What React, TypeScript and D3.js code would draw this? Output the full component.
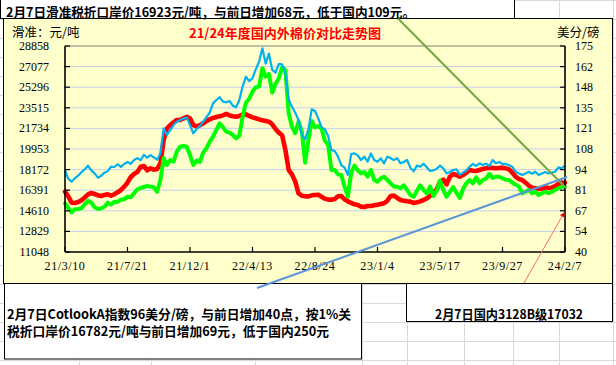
import React from 'react';
import * as d3 from 'd3';

// ---- data (weekly samples from 21/3/10 to 24/2/7) ----
const xTickLabels = ['21/3/10', '21/7/21', '21/12/1', '22/4/13', '22/8/24', '23/1/4', '23/5/17', '23/9/27', '24/2/7'];
const leftTicks = [11048, 12829, 14610, 16391, 18172, 19953, 21734, 23515, 25296, 27077, 28858];
const rightTicks = [40, 53.5, 67, 80.5, 94, 107.5, 121, 134.5, 148, 161.5, 175];

// 国内3128B (元/吨, left axis)
const domestic3128B = [
  16264, 15861, 15313, 15284, 15371, 15515, 15775, 16034, 16149, 16063,
  15948, 15890, 15976, 16034, 15919, 16034, 16207, 16408, 16697, 17042,
  17532, 17792, 17965, 18426, 18484, 18109, 18282, 18167, 18224, 18714,
  20732, 21740, 22028, 22259, 22461, 22461, 22605, 22720, 22605,
  22028, 21913, 22000, 22173, 22374, 22518, 22634, 22720, 22778, 22864,
  22980, 22864, 22778, 22749, 22807, 22922, 22951, 22807, 22691, 22605,
  22518, 22432, 22374, 22317, 22086, 21683, 21366, 21135, 19867, 18138,
  17763, 17129, 16120, 15918, 15861, 15861, 15947, 15976,
  16005, 15832, 15659, 15573, 15573, 15630, 15861, 15890, 15602, 15429,
  15285, 15169, 15112, 14968, 14939, 15025, 15025, 15083, 15140, 15198,
  15256, 15486, 15890, 15919, 15717, 15544, 15486, 15429, 15400, 15285,
  15342, 15429, 15544, 15688, 15890, 16178, 16466, 17129,
  17300, 16900, 17550, 17792, 17705, 17561, 17705, 17907, 18138, 18080,
  18051, 18138, 18224, 18282, 18340, 18311, 18282, 18311, 18340, 18282,
  18195, 17907, 17561, 17359, 17273, 17042, 16783, 16610, 16552, 16495,
  16524, 16639, 16581, 16610, 16754, 16927, 17042, 17032,
];

// 滑准税折口岸价 (元/吨, left axis)
const slidingDutyPrice = [
  15256, 14852, 14478, 14737, 14766, 14823, 15169, 15486, 15313, 14910,
  14766, 14823, 14968, 15313, 15150, 15400, 15380, 15573, 15600, 15832,
  15780, 16120, 16466, 16582, 16668, 16754, 16697, 16639, 16264, 17273,
  19146, 18570, 19002, 18858, 19723, 20155, 20213, 20155, 19435,
  18570, 18945, 18829, 19636, 20011, 20587, 21020, 21596, 22173, 21827,
  21452, 21366, 21164, 20876, 21106, 22749, 23959, 24305, 24910, 25285,
  25343, 26928, 26207, 26438, 24824, 25573, 26063, 27014, 26784, 23037,
  21884, 21308, 22317, 21452, 18772, 20731, 22374, 21827,
  21942, 21711, 20674, 20299, 18138, 18138, 17763, 17705, 16697, 15832,
  17907, 18512, 18109, 17850, 17965, 17561, 18138, 17273, 17129, 17417,
  17561, 17273, 16985, 16697, 16697, 16552, 16812, 16409, 15976, 15832,
  16351, 16812, 16409, 16120, 16697, 15890, 16351, 17215,
  16409, 15832, 16236, 16668, 16178, 15717, 16495, 16985, 17273, 16985,
  17504, 16985, 17273, 17388, 17792, 17446, 17561, 17561, 17417, 17302,
  17273, 17042, 16870, 16697, 16120, 16264, 16409, 16120, 16264, 15976,
  16120, 16264, 16120, 16264, 16409, 16552, 16697, 16697,
];

// CotlookA 指数 (美分/磅, right axis)
const cotlookA = [
  93.3, 88.0, 86.1, 88.3, 90.0, 92.2, 94.2, 96.5, 93.5, 91.5,
  88.7, 90.0, 92.0, 93.0, 96.0, 95.7, 97.5, 95.8, 97.7, 99.0,
  97.8, 100.3, 101.5, 100.2, 103.6, 101.8, 103.5, 102.0, 100.5, 104.6,
  121.0, 116.7, 119.9, 123.2, 125.4, 126.5, 127.4, 128.2, 123.2,
  117.8, 120.4, 122.6, 125.4, 128.3, 131.3, 137.4, 139.6, 141.4, 138.5,
  138.1, 139.0, 135.9, 134.8, 139.6, 148.4, 154.9, 152.0, 153.8, 159.7,
  164.7, 173.5, 163.5, 170.0, 159.3, 157.5, 163.2, 163.0, 157.1, 140.0,
  135.2, 131.3, 126.5, 116.7, 113.8, 120.4, 133.5, 132.4,
  127.6, 121.7, 120.4, 116.0, 106.8, 106.2, 102.5, 97.0, 95.3, 90.5,
  104.2, 104.6, 103.3, 100.3, 102.5, 99.2, 104.6, 100.3, 99.2, 101.4,
  98.1, 102.5, 101.4, 100.3, 101.4, 98.1, 99.0, 100.3, 95.3, 92.9,
  96.6, 95.9, 97.9, 95.5, 93.1, 93.5, 94.6, 96.6,
  94.8, 91.5, 92.4, 93.7, 94.2, 90.7, 92.0, 93.4, 95.9, 97.7,
  96.4, 98.1, 97.0, 97.9, 96.4, 100.3, 98.1, 99.0, 97.7, 97.7,
  96.8, 95.9, 92.6, 91.5, 90.5, 91.5, 92.6, 91.3, 92.6, 90.5,
  91.5, 92.4, 91.5, 92.0, 92.6, 95.5, 94.8, 96.6,
];

const titleText = '21/24年度国内外棉价对比走势图';
const leftUnit = '滑准：元/吨';
const rightUnit = '美分/磅';
const topNote = '2月7日滑准税折口岸价16923元/吨，与前日增加68元，低于国内109元。';
const bottomNote1 = '2月7日CotlookA指数96美分/磅，与前日增加40点，按1%关';
const bottomNote2 = '税折口岸价16782元/吨与前日增加69元，低于国内250元';
const rightNote = '2月7日国内3128B级17032';

// ---- layout ----
const W = 616, H = 365;
const plot = { left: 65, right: 565, top: 46, bottom: 252 };
const cjk = '"Noto Sans CJK SC", sans-serif';
const serif = '"Liberation Serif", "DejaVu Serif", serif';
const sheetCols = [79, 151, 255, 362, 407, 464, 513, 559, 613];

export default function App() {
  const parse = d3.timeParse('%y/%m/%d');
  const tickDates = xTickLabels.map((s) => parse(s) as Date);
  const t0 = tickDates[0];
  const t1 = tickDates[tickDates.length - 1];
  const x = d3.scaleTime().domain([t0, t1]).range([plot.left, plot.right]);
  const yL = d3.scaleLinear().domain([leftTicks[0], leftTicks[leftTicks.length - 1]]).range([plot.bottom, plot.top]);
  const yR = d3.scaleLinear().domain([rightTicks[0], rightTicks[rightTicks.length - 1]]).range([plot.bottom, plot.top]);
  const dates = domestic3128B.map((_, i) => d3.timeDay.offset(t0, 7 * i));

  const lineL = d3.line<number>().x((_, i) => x(dates[i])).y((d) => yL(d));
  const lineR = d3.line<number>().x((_, i) => x(dates[i])).y((d) => yR(d));
  const fmtR = d3.format('.0f');

  const rows: number[] = [];
  for (let r = 359.5; r > 0; r -= 18.9) rows.push(r);

  return (
    <svg width={W} height={H} style={{ position: 'absolute', left: 0, top: 0, background: '#fff' }}>
      <defs>
        <marker id="arrowRed" viewBox="0 0 10 10" refX="8" refY="5" markerWidth="5" markerHeight="5" orient="auto">
          <path d="M0,0 L10,5 L0,10 z" fill="#FF0000" />
        </marker>
      </defs>
      {/* spreadsheet grid */}
      <rect x={0} y={0} width={W} height={H} fill="#fff" />
      {sheetCols.map((c) => (
        <line key={'c' + c} x1={c + 0.5} x2={c + 0.5} y1={0} y2={H} stroke="#D9D9D9" />
      ))}
      {rows.map((r) => (
        <line key={'r' + r} x1={0} x2={W} y1={Math.round(r) + 0.5} y2={Math.round(r) + 0.5} stroke="#D9D9D9" />
      ))}

      {/* chart area */}
      <rect x={3.5} y={18.5} width={609} height={265} fill="#FFFFCC" stroke="#000" strokeWidth={1} />

      {/* gridlines */}
      {leftTicks.slice(1, -1).map((v) => (
        <line key={'g' + v} x1={plot.left} x2={plot.right} y1={yL(v)} y2={yL(v)} stroke="#C6CDEF" strokeWidth={1} />
      ))}
      <line x1={plot.left} x2={plot.right} y1={plot.top} y2={plot.top} stroke="#808080" strokeWidth={1.2} />

      {/* series */}
      <path d={lineL(domestic3128B) || ''} fill="none" stroke="#FF0000" strokeWidth={4.6} strokeLinejoin="round" strokeLinecap="round" />
      <path d={lineL(slidingDutyPrice) || ''} fill="none" stroke="#00FF00" strokeWidth={4} strokeLinejoin="round" strokeLinecap="round" />
      <path d={lineR(cotlookA) || ''} fill="none" stroke="#00B0F0" strokeWidth={2.2} strokeLinejoin="round" />

      {/* axes */}
      <line x1={plot.left} x2={plot.left} y1={plot.top} y2={plot.bottom} stroke="#000" strokeWidth={1.6} />
      <line x1={plot.right} x2={plot.right} y1={plot.top} y2={plot.bottom} stroke="#000" strokeWidth={1.6} />
      <line x1={plot.left} x2={plot.right} y1={plot.bottom} y2={plot.bottom} stroke="#000" strokeWidth={1.6} />
      {leftTicks.map((v) => (
        <g key={'l' + v}>
          <line x1={plot.left} x2={plot.left + 5} y1={yL(v)} y2={yL(v)} stroke="#000" strokeWidth={1.2} />
          <text x={49} y={yL(v)} textAnchor="end" dominantBaseline="central" fontFamily={serif} fontSize={12} fill="#000">
            {v}
          </text>
        </g>
      ))}
      {rightTicks.map((v) => (
        <g key={'r' + v}>
          <line x1={plot.right - 5} x2={plot.right} y1={yR(v)} y2={yR(v)} stroke="#000" strokeWidth={1.2} />
          <text x={575} y={yR(v)} textAnchor="start" dominantBaseline="central" fontFamily={serif} fontSize={12} fill="#000">
            {fmtR(v)}
          </text>
        </g>
      ))}
      {tickDates.map((d, i) => (
        <g key={'x' + i}>
          <line x1={x(d)} x2={x(d)} y1={plot.bottom - 5} y2={plot.bottom} stroke="#000" strokeWidth={1.2} />
          <text x={x(d)} y={266} textAnchor="middle" dominantBaseline="central" fontFamily={serif} fontSize={12} letterSpacing={0.6} fill="#000">
            {xTickLabels[i]}
          </text>
        </g>
      ))}

      {/* titles */}
      <text x={285} y={32} textAnchor="middle" dominantBaseline="central" fontFamily={cjk} fontWeight={700} fontSize={13} fill="#FF0000" textLength={192} lengthAdjust="spacingAndGlyphs">
        {titleText}
      </text>
      <text x={12} y={31} dominantBaseline="central" fontFamily={cjk} fontSize={12.5} fill="#000">
        {leftUnit}
      </text>
      <text x={557} y={31} dominantBaseline="central" fontFamily={cjk} fontSize={12.5} fill="#000">
        {rightUnit}
      </text>

      {/* text boxes */}
      <rect x={0.5} y={-1} width={514} height={19.5} fill="#fff" stroke="#000" strokeWidth={1} />
      <text x={6} y={11} dominantBaseline="central" fontFamily={cjk} fontWeight={700} fontSize={13} fill="#000" textLength={409} lengthAdjust="spacingAndGlyphs">
        {topNote}
      </text>
      <rect x={4.5} y={283.5} width={357} height={75.5} fill="#fff" stroke="#000" strokeWidth={1} />
      <text x={7} y={313} dominantBaseline="central" fontFamily={cjk} fontWeight={700} fontSize={13} fill="#000" textLength={344} lengthAdjust="spacingAndGlyphs">
        {bottomNote1}
      </text>
      <text x={7} y={330.5} dominantBaseline="central" fontFamily={cjk} fontWeight={700} fontSize={13} fill="#000" textLength={322} lengthAdjust="spacingAndGlyphs">
        {bottomNote2}
      </text>
      <rect x={406.5} y={283.5} width={206} height={38} fill="#fff" stroke="#000" strokeWidth={1} />
      <text x={509} y={313.5} textAnchor="middle" dominantBaseline="central" fontFamily={cjk} fontWeight={700} fontSize={13} fill="#000" textLength={148} lengthAdjust="spacingAndGlyphs">
        {rightNote}
      </text>

      {/* callout lines */}
      <line x1={398} y1={18.5} x2={plot.right + 1} y2={188} stroke="#77A646" strokeWidth={2} />
      <line x1={257} y1={288} x2={plot.right + 2} y2={177} stroke="#5B95D8" strokeWidth={2} />
      <line x1={524} y1={283} x2={plot.right - 1} y2={213} stroke="#FF6A6A" strokeWidth={1} markerEnd="url(#arrowRed)" />
    </svg>
  );
}
